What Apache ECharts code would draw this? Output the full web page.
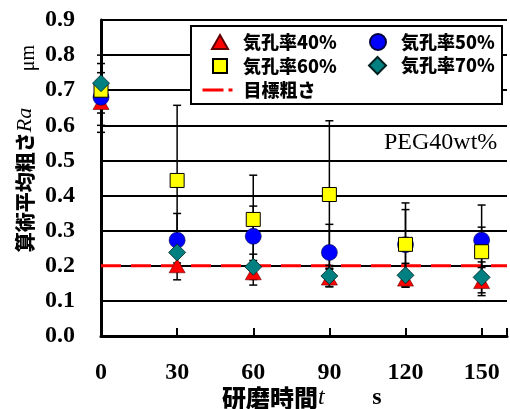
<!DOCTYPE html>
<html>
<head>
<meta charset="utf-8">
<script src="https://cdn.jsdelivr.net/npm/echarts@6/dist/echarts.min.js"></script>
<style>
html,body{margin:0;padding:0;background:#fff;}
#c{width:510px;height:409px;}
</style>
</head>
<body>
<div id="c"></div>
<script>
// ---- data ----
const times = [0, 30, 60, 90, 120, 150];
const ra40 = [0.665, 0.200, 0.180, 0.165, 0.162, 0.155];
const err40 = [0.085, 0.040, 0.035, 0.025, 0.023, 0.040];
const ra50 = [0.680, 0.273, 0.284, 0.238, 0.260, 0.273];
const err50 = [0.045, 0.076, 0.086, 0.080, 0.100, 0.100];
const ra60 = [0.700, 0.443, 0.332, 0.403, 0.261, 0.240];
const err60 = [0.100, 0.214, 0.126, 0.210, 0.118, 0.070];
const ra70 = [0.720, 0.238, 0.197, 0.171, 0.173, 0.167];
const err70 = [0.056, 0.030, 0.036, 0.030, 0.034, 0.044];
const targetRa = 0.2;
const names = ['気孔率40%', '気孔率50%', '気孔率60%', '気孔率70%', '目標粗さ'];
const yTicks = [0, 0.1, 0.2, 0.3, 0.4, 0.5, 0.6, 0.7, 0.8, 0.9];
const xMin = 0, xMax = 160;

const pts = (ys) => times.map((t, i) => [t, ys[i]]);
const errRows = [];
[[ra40, err40], [ra50, err50], [ra60, err60], [ra70, err70]].forEach(([ys, es]) => {
  times.forEach((t, i) => errRows.push([t, ys[i], es[i]]));
});

const serif = 'Liberation Serif';
const cjk = 'Noto Sans CJK JP';

const chart = echarts.init(document.getElementById('c'), null, {renderer: 'canvas'});

function mkLegend(item, left, top, w, h, padLeft, extra) {
  return Object.assign({
    data: [item], left: left, top: top, padding: 0,
    itemWidth: w, itemHeight: h, itemGap: 0,
    textStyle: {fontFamily: cjk, fontWeight: 900, fontSize: 18, color: '#000', padding: [0, 0, 0, padLeft]},
    z: 10, selectedMode: false
  }, extra || {});
}

const option = {
  animation: false,
  backgroundColor: '#fff',
  grid: {left: 101, top: 20, width: 411, height: 316, containLabel: false},
  xAxis: {
    type: 'value', min: xMin, max: xMax, interval: 30,
    axisLine: {show: true, lineStyle: {color: '#000', width: 3}},
    axisTick: {show: true, inside: true, length: 8, lineStyle: {color: '#000', width: 2}},
    axisLabel: {
      margin: 25, fontFamily: serif, fontWeight: 'bold', fontSize: 24, color: '#000',
      formatter: v => (v % 30 === 0 ? String(v) : '')
    },
    splitLine: {show: false}
  },
  yAxis: {
    type: 'value', min: yTicks[0], max: yTicks[yTicks.length - 1], interval: 0.1,
    axisLine: {show: true, lineStyle: {color: '#000', width: 3}},
    axisTick: {show: false},
    axisLabel: {
      margin: 26, fontFamily: serif, fontWeight: 'bold', fontSize: 24, color: '#000',
      formatter: v => v.toFixed(1)
    },
    splitLine: {show: true, lineStyle: {color: '#000', width: 2}}
  },
  legend: [
    mkLegend(names[0], 211, 33, 16, 14, 10),
    mkLegend(names[1], 369, 33, 16, 16, 10),
    mkLegend(names[2], 212, 57, 14, 14, 11),
    mkLegend(names[3], 368, 56, 17, 17, 10),
    mkLegend({name: names[4], itemStyle: {opacity: 0}}, 201, 81, 30, 14, 6,
      {lineStyle: {type: [21, 5], width: 3, color: '#ff0000'}})
  ],
  graphic: [
    {type: 'rect', left: 190, top: 25, z: 5,
      shape: {width: 311, height: 78}, style: {fill: '#fff', stroke: '#000', lineWidth: 2}},
    {type: 'text', left: 384, top: 131, z: 5,
      style: {text: 'PEG40wt%', font: 'normal 24px "Liberation Serif"', fill: '#000'}},
    {type: 'text', x: 25, y: 180, rotation: Math.PI / 2, z: 5,
      style: {
        text: '{a|算術平均粗さ}{b|Ra}', align: 'center', verticalAlign: 'middle',
        rich: {
          a: {fontFamily: cjk, fontWeight: 900, fontSize: 20, fill: '#000', color: '#000'},
          b: {fontFamily: serif, fontStyle: 'italic', fontSize: 22, fill: '#000', color: '#000'}
        }
      }},
    {type: 'text', x: 29, y: 58, rotation: Math.PI / 2, z: 5,
      style: {text: 'μm', font: 'normal 20px "Liberation Serif"', fill: '#000', align: 'center', verticalAlign: 'middle'}},
    {type: 'text', x: 222, y: 398, z: 5,
      style: {
        text: '{a|研磨時間}{b|t}', align: 'left', verticalAlign: 'middle',
        rich: {
          a: {fontFamily: cjk, fontWeight: 900, fontSize: 24, fill: '#000', color: '#000'},
          b: {fontFamily: serif, fontStyle: 'italic', fontSize: 24, fill: '#000', color: '#000'}
        }
      }},
    {type: 'text', x: 377, y: 398, z: 5,
      style: {text: 's', font: 'bold 24px "Liberation Serif"', fill: '#000', align: 'center', verticalAlign: 'middle'}}
  ],
  series: [
    {
      name: names[4], type: 'line', data: [[xMin, targetRa], [xMax, targetRa]],
      symbol: 'none', z: 1,
      lineStyle: {color: '#ff0000', width: 3, type: [20, 10]},
      itemStyle: {color: '#ff0000'}
    },
    {
      name: 'err', type: 'custom', data: errRows, z: 2,
      encode: {x: 0, y: 1},
      renderItem: function (params, api) {
        const x = api.value(0), y = api.value(1), e = api.value(2);
        const top = api.coord([x, y + e]);
        const bot = api.coord([x, y - e]);
        const hw = 4;
        const st = {stroke: '#000', lineWidth: 1.5};
        return {
          type: 'group', children: [
            {type: 'line', shape: {x1: top[0], y1: top[1], x2: bot[0], y2: bot[1]}, style: st},
            {type: 'line', shape: {x1: top[0] - hw, y1: top[1], x2: top[0] + hw, y2: top[1]}, style: st},
            {type: 'line', shape: {x1: bot[0] - hw, y1: bot[1], x2: bot[0] + hw, y2: bot[1]}, style: st}
          ]
        };
      }
    },
    {
      name: names[0], type: 'scatter', data: pts(ra40), z: 3,
      symbol: 'triangle', symbolSize: [16, 14],
      itemStyle: {color: '#ff0000', borderColor: '#600000', borderWidth: 0.6, opacity: 1}
    },
    {
      name: names[1], type: 'scatter', data: pts(ra50), z: 3,
      symbol: 'circle', symbolSize: 16,
      itemStyle: {color: '#0000ff', borderColor: '#000040', borderWidth: 0.6, opacity: 1}
    },
    {
      name: names[2], type: 'scatter', data: pts(ra60), z: 3,
      symbol: 'rect', symbolSize: 14,
      itemStyle: {color: '#ffff00', borderColor: '#000', borderWidth: 1, opacity: 1}
    },
    {
      name: names[3], type: 'scatter', data: pts(ra70), z: 3,
      symbol: 'diamond', symbolSize: 17,
      itemStyle: {color: '#008080', borderColor: '#002020', borderWidth: 0.8, opacity: 1}
    }
  ]
};
chart.setOption(option);
</script>
</body>
</html>
